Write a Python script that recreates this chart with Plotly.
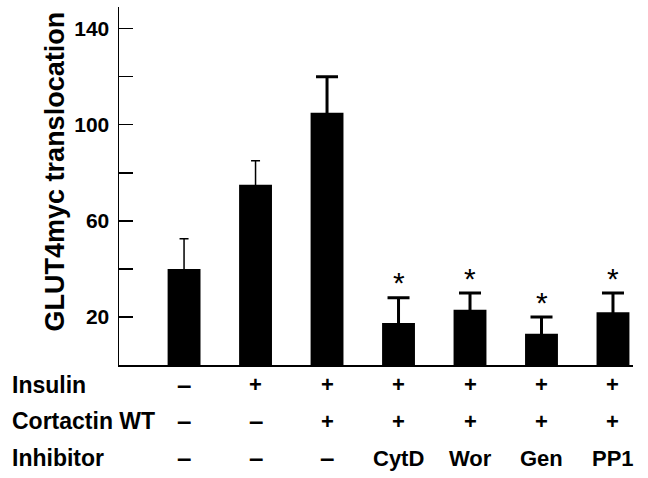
import plotly.graph_objects as go

# ---- data ----
conditions = ["ctrl", "ins", "ins+cort", "CytD", "Wor", "Gen", "PP1"]
insulin = ["–", "+", "+", "+", "+", "+", "+"]
cortactin_wt = ["–", "–", "+", "+", "+", "+", "+"]
inhibitor = ["–", "–", "–", "CytD", "Wor", "Gen", "PP1"]
translocation = [40, 75, 105, 17.5, 23, 13, 22]
error_up = [12.5, 10, 15, 10.5, 7, 7, 8]
significant = [False, False, False, True, True, True, True]
row_labels = ["Insulin", "Cortactin WT", "Inhibitor"]
y_title = "GLUT4myc translocation"
tick_values = [20, 40, 60, 80, 100, 120, 140]
tick_text = ["20", "", "60", "", "100", "", "140"]

FONT = "Liberation Sans, Arial, sans-serif"
xs = list(range(len(conditions)))

fig = go.Figure()
thin = [i for i in xs if i < 2]
thick = [i for i in xs if i >= 2]
for idx, thickness, cap in [(thin, 1.5, 4.5), (thick, 3, 11)]:
    fig.add_trace(go.Bar(
        x=[xs[i] for i in idx],
        y=[translocation[i] for i in idx],
        width=0.46,
        marker=dict(color="black", line=dict(width=0)),
        error_y=dict(type="data", symmetric=True,
                     array=[error_up[i] for i in idx],
                     color="black", thickness=thickness, width=cap),
        showlegend=False,
        hoverinfo="skip",
    ))

annotations = []
# y-axis title
annotations.append(dict(x=-0.125, y=0.54, xref="paper", yref="paper",
                        text="<b>%s</b>" % y_title, showarrow=False, textangle=-90,
                        xanchor="center", yanchor="middle",
                        font=dict(family=FONT, size=27, color="black")))
# asterisks
for i in xs:
    if significant[i]:
        annotations.append(dict(x=i, y=translocation[i] + error_up[i] - 1.5,
                                xref="x", yref="y", text="*", showarrow=False,
                                yanchor="bottom",
                                font=dict(family=FONT, size=30, color="black")))

# table rows below axis
row_y = [-0.055, -0.157, -0.26]
rows = [insulin, cortactin_wt, inhibitor]
for r, (lab, vals) in enumerate(zip(row_labels, rows)):
    annotations.append(dict(x=-0.212, y=row_y[r], xref="paper", yref="paper",
                            text="<b>%s</b>" % lab, showarrow=False,
                            xanchor="left", yanchor="middle",
                            font=dict(family=FONT, size=23, color="black")))
    for i in xs:
        v = vals[i]
        size = 26 if v == "–" else 22
        annotations.append(dict(x=i, y=row_y[r], xref="x", yref="paper",
                                text="<b>%s</b>" % v, showarrow=False,
                                xanchor="center", yanchor="middle",
                                font=dict(family=FONT, size=size, color="black")))

fig.update_layout(
    width=648, height=478,
    margin=dict(l=119, r=15, t=7, b=113),
    paper_bgcolor="white", plot_bgcolor="white",
    barmode="overlay",
    hovermode=False,
    annotations=annotations,
    xaxis=dict(range=[-0.91, 6.28], showticklabels=False, ticks="",
               showgrid=False, zeroline=False, showline=True,
               linecolor="black", linewidth=1.5),
    yaxis=dict(range=[0, 149], tickvals=tick_values, ticktext=tick_text,
               ticks="inside", ticklen=14, tickwidth=1.5, tickcolor="black",
               showgrid=False, zeroline=False, showline=True,
               linecolor="black", linewidth=1.5, ticklabelstandoff=4,
               tickfont=dict(family=FONT, size=21, color="black", weight="bold")),
)

fig.write_html("out.html",
               config={"displayModeBar": False, "staticPlot": True},
               post_script="document.body.style.margin='0';document.body.style.padding='0';")
